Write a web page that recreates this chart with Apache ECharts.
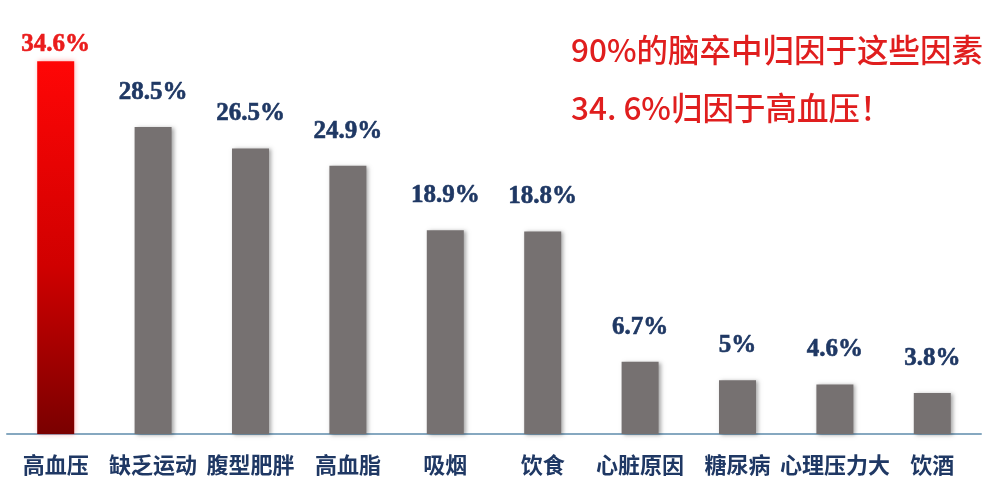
<!DOCTYPE html>
<html><head><meta charset="utf-8">
<script src="https://cdn.jsdelivr.net/npm/echarts@6/dist/echarts.min.js"></script>
<style>html,body{margin:0;padding:0;background:#fff}#c{width:1000px;height:488px}</style>
</head><body><div id="c"></div>
<script>
const categories = ['高血压','缺乏运动','腹型肥胖','高血脂','吸烟','饮食','心脏原因','糖尿病','心理压力大','饮酒'];
const values = [34.6, 28.5, 26.5, 24.9, 18.9, 18.8, 6.7, 5, 4.6, 3.8];
const noteLines = ['90%的脑卒中归因于这些因素', '34. 6%归因于高血压！'];

const chart = echarts.init(document.getElementById('c'), null, {renderer:'canvas'});
const barData = values.map((v, i) => {
  if (i === 0) {
    return {
      value: v,
      itemStyle: {
        color: new echarts.graphic.LinearGradient(0,0,0,1,[
          {offset:0,color:'#ff0606'},{offset:0.55,color:'#d00000'},{offset:1,color:'#7a0000'}
        ]),
        shadowColor:'rgba(255,60,60,0.45)', shadowBlur:5, shadowOffsetX:1, shadowOffsetY:0
      },
      label: {color:'#ea1c1c', distance:4, textBorderColor:'#ea1c1c'}
    };
  }
  return v;
});
chart.setOption({
  animation:false,
  title:{
    text: noteLines.join('\n'),
    left: 566, top: 16,
    textStyle:{fontFamily:'Noto Sans CJK SC', fontSize:31.5, fontWeight:500, color:'#e01e1e', lineHeight:58}
  },
  grid:{left:7, right:19, top:3, bottom:54},
  xAxis:{
    type:'category', data:categories,
    axisLine:{lineStyle:{color:'#86a8c0', width:2}},
    axisTick:{show:false},
    axisLabel:{interval:0, margin:20, fontFamily:'Noto Sans CJK SC', fontSize:22, fontWeight:'bold', color:'#1f3864'}
  },
  yAxis:{type:'value', min:0, max:40, show:false, splitLine:{show:false}},
  series:[{
    type:'bar', data:barData, barWidth:37,
    itemStyle:{color:'#767171', shadowColor:'rgba(0,0,0,0.35)', shadowBlur:4, shadowOffsetX:2, shadowOffsetY:1},
    label:{show:true, position:'top', distance:22, formatter:'{c}%',
      fontFamily:'Liberation Serif', fontWeight:'bold', fontSize:25, color:'#1f3864',
      textBorderColor:'#1f3864', textBorderWidth:0.6}
  }]
});
</script></body></html>
